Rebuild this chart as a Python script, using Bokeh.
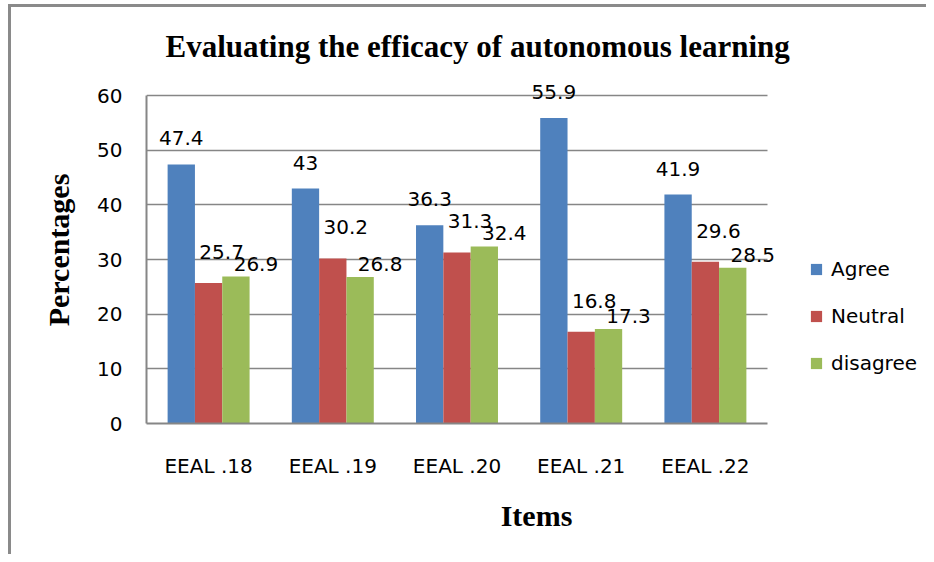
from bokeh.plotting import figure
from bokeh.models import (ColumnDataSource, FixedTicker, LabelSet,
                          Legend, LegendItem, Range1d, Title)
from bokeh.core.properties import value
from bokeh.transform import dodge
from bokeh.embed import file_html
from bokeh.resources import INLINE

items = ["EEAL .18", "EEAL .19", "EEAL .20", "EEAL .21", "EEAL .22"]
agree = [47.4, 43, 36.3, 55.9, 41.9]
neutral = [25.7, 30.2, 31.3, 16.8, 29.6]
disagree = [26.9, 26.8, 32.4, 17.3, 28.5]
y_ticks = [0, 10, 20, 30, 40, 50, 60]

title_text = "Evaluating the efficacy of autonomous learning"
series_names = ["Agree", "Neutral", "disagree"]
colors = ["#4F81BD", "#C0504D", "#9BBB59"]

n = len(items)
xpos = [i + 0.5 for i in range(n)]  # category centres

src = ColumnDataSource(dict(
    x=xpos, agree=agree, neutral=neutral, disagree=disagree,
    agree_t=[str(v) for v in agree],
    neutral_t=[str(v) for v in neutral],
    disagree_t=[str(v) for v in disagree],
))

W, H = 926, 554
BL, BR, BT, BB = 146, 0, 76, 131
unit_px = 124.2  # width of one category in pixels
x_end = (W - BL - BR) / unit_px

p = figure(width=W, height=H, x_range=Range1d(0, x_end), y_range=Range1d(0, 63.5),
           output_backend="svg", toolbar_location=None,
           min_border_left=BL, min_border_right=BR, min_border_top=BT, min_border_bottom=BB)
p.outline_line_color = None
p.background_fill_color = "white"
p.border_fill_color = None
p.styles = {
    "background-color": "white",
    "background-image": "linear-gradient(#8a8a8a, #8a8a8a), linear-gradient(#8a8a8a, #8a8a8a)",
    "background-position": "8px 4px, 8px 4px",
    "background-size": "3px 100%, 100% 3px",
    "background-repeat": "no-repeat",
}

GRAY = "#868686"
p.xgrid.grid_line_color = None
p.ygrid.grid_line_color = GRAY
p.ygrid.grid_line_width = 1.5
p.ygrid.cross_bounds = (0, n)

p.yaxis.ticker = FixedTicker(ticks=y_ticks)
p.yaxis.bounds = (0, 60)
p.xaxis.ticker = FixedTicker(ticks=xpos)
p.xaxis.major_label_overrides = {x: name for x, name in zip(xpos, items)}
p.xaxis.bounds = (0, n)
for ax in (p.xaxis[0], p.yaxis[0]):
    ax.axis_line_color = GRAY
    ax.axis_line_width = 2
    ax.major_tick_line_color = None
    ax.minor_tick_line_color = None
    ax.major_tick_out = 0
    ax.major_tick_in = 0
    ax.major_label_text_font = "DejaVu Sans"
    ax.major_label_text_font_size = "20px"
    ax.major_label_text_color = "black"
    ax.axis_label_text_font = "Liberation Serif"
    ax.axis_label_text_font_style = "bold"
    ax.axis_label_text_font_size = "30px"
    ax.axis_label_text_color = "black"

p.yaxis.major_label_standoff = 24
p.yaxis.axis_label = "Percentages"
p.yaxis.axis_label_standoff = 19
p.xaxis.major_label_standoff = 30
p.xaxis.axis_label = "Items"
p.xaxis.axis_label_standoff = 18

bw = 0.22
offs = [-bw, 0.0, bw]
cols = ["agree", "neutral", "disagree"]
renderers = []
for c, o, col in zip(cols, offs, colors):
    r = p.vbar(x=dodge("x", o), top=c, width=bw, source=src,
               fill_color=col, line_color=None)
    renderers.append(r)

# label nudges per series (pixels)
lab_dx = [0, 13, 20]
lab_dy = [19, 24, 6]
for c, o, dx, dy in zip(cols, offs, lab_dx, lab_dy):
    ls = LabelSet(x=dodge("x", o), y=c, text=c + "_t", source=src,
                  x_offset=dx, y_offset=dy, text_align="center", text_baseline="alphabetic",
                  text_font=value("DejaVu Sans"), text_font_size=value("20px"),
                  text_color="black")
    p.add_layout(ls)

legend = Legend(items=[LegendItem(label=nm, renderers=[r]) for nm, r in zip(series_names, renderers)],
                location=(663, 48), padding=0, margin=0, spacing=23,
                glyph_width=14, glyph_height=14, label_standoff=8,
                label_text_font="DejaVu Sans", label_text_font_size="20px",
                label_text_color="black",
                border_line_color=None, background_fill_alpha=0)
p.add_layout(legend)

title = Title(text=title_text, align="left", offset=19, standoff=25,
              text_font="Liberation Serif", text_font_style="bold", text_font_size="31px",
              text_color="black")
p.add_layout(title, "above")

open("out.html", "w").write(file_html(p, INLINE))
